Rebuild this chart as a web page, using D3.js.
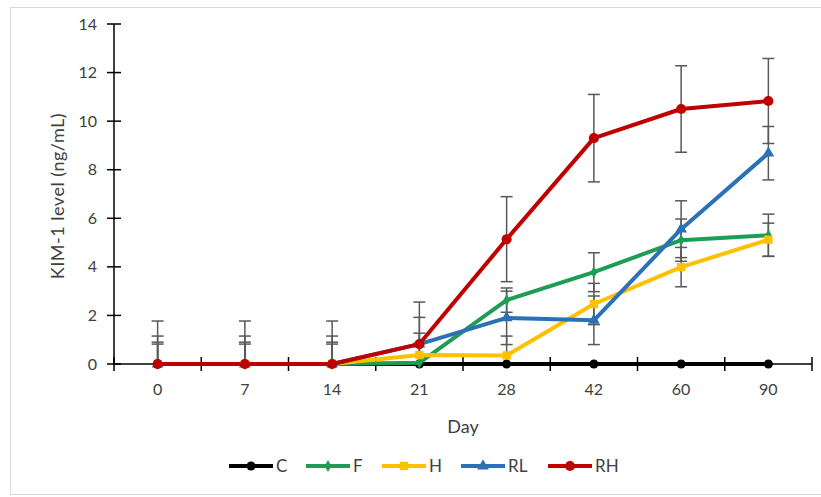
<!DOCTYPE html>
<html>
<head>
<meta charset="utf-8">
<script src="https://cdn.jsdelivr.net/npm/d3@7"></script>
<style>
  body { margin: 0; background: #fff; }
  text { font-family: Lato, "Open Sans", sans-serif; fill: #404040; }
</style>
</head>
<body>
<div id="chart"></div>
<script>
// days on x axis (categorical)
const days = ["0", "7", "14", "21", "28", "42", "60", "90"];
const yTicks = [0, 2, 4, 6, 8, 10, 12, 14];

// mean KIM-1 level per group
const valC  = [0, 0, 0, 0, 0, 0, 0, 0];
const valF  = [0, 0, 0, 0.05, 2.63, 3.78, 5.1, 5.3];
const valH  = [0, 0, 0, 0.37, 0.35, 2.47, 3.99, 5.12];
const valRL = [0, 0, 0, 0.82, 1.9, 1.8, 5.55, 8.68];
const valRH = [0, 0, 0, 0.82, 5.14, 9.3, 10.5, 10.83];

// error (+/-) per group
const errC  = [0, 0, 0, 0, 0, 0, 0, 0];
const errF  = [0.82, 0.82, 0.82, 0.8, 0.5, 0.8, 0.87, 0.87];
const errH  = [0.9, 0.9, 0.9, 0.9, 0.8, 0.85, 0.81, 0.68];
const errRL = [1.15, 1.15, 1.15, 1.1, 1.1, 1.0, 1.17, 1.1];
const errRH = [1.77, 1.77, 1.77, 1.73, 1.75, 1.8, 1.78, 1.75];

const series = [
  {name: "C",  vals: valC,  errs: errC,  color: "#000000", marker: d3.symbolCircle,   size: 64},
  {name: "F",  vals: valF,  errs: errF,  color: "#1e9e55", marker: d3.symbolDiamond,  size: 40},
  {name: "H",  vals: valH,  errs: errH,  color: "#ffc000", marker: d3.symbolSquare,   size: 70},
  {name: "RL", vals: valRL, errs: errRL, color: "#2a72b5", marker: d3.symbolTriangle, size: 60},
  {name: "RH", vals: valRH, errs: errRH, color: "#c00000", marker: d3.symbolCircle,   size: 80}
];

const W = 821, H = 497;
const margin = {left: 114, right: 9, top: 24, bottom: 133};
const pw = W - margin.left - margin.right;
const ph = H - margin.top - margin.bottom;

const svg = d3.select("#chart").append("svg")
    .attr("width", W)
    .attr("height", H);

// outer chart frame
svg.append("rect")
    .attr("x", 10.5).attr("y", 7.5)
    .attr("width", 830).attr("height", 487)
    .attr("fill", "none")
    .attr("stroke", "#d9d9d9");

const g = svg.append("g")
    .attr("transform", "translate(" + margin.left + "," + margin.top + ")");

const x = d3.scaleBand().domain(days).range([0, pw]);
const y = d3.scaleLinear().domain([0, 14]).range([ph, 0]);
const cx = d => x(d) + x.bandwidth() / 2;

// y axis
g.append("line")
    .attr("x1", 0).attr("x2", 0)
    .attr("y1", 0).attr("y2", ph)
    .attr("stroke", "#000").attr("stroke-width", 1.5);
g.selectAll(".ytick")
  .data(yTicks)
  .join("line")
    .attr("x1", -7).attr("x2", 7)
    .attr("y1", d => y(d)).attr("y2", d => y(d))
    .attr("stroke", "#000").attr("stroke-width", 1.5);
g.selectAll(".ylab")
  .data(yTicks)
  .join("text")
    .attr("x", -17)
    .attr("y", d => y(d))
    .attr("dy", "0.35em")
    .attr("text-anchor", "end")
    .style("font-size", "16px")
    .text(d => d);

// x axis
g.append("line")
    .attr("x1", 0).attr("x2", pw)
    .attr("y1", ph).attr("y2", ph)
    .attr("stroke", "#000").attr("stroke-width", 1.5);
g.selectAll(".xtick")
  .data(d3.range(days.length + 1))
  .join("line")
    .attr("x1", i => i * x.step()).attr("x2", i => i * x.step())
    .attr("y1", ph - 7).attr("y2", ph + 7)
    .attr("stroke", "#000").attr("stroke-width", 1.5);
g.selectAll(".xlab")
  .data(days)
  .join("text")
    .attr("x", d => cx(d))
    .attr("y", ph + 31)
    .attr("text-anchor", "middle")
    .style("font-size", "16px")
    .text(d => d);

// axis titles
g.append("text")
    .attr("x", pw / 2)
    .attr("y", ph + 69)
    .attr("text-anchor", "middle")
    .style("font-size", "18px")
    .text("Day");
g.append("text")
    .attr("transform", "translate(" + (-50) + "," + (ph / 2 + 2) + ") rotate(-90)")
    .attr("text-anchor", "middle")
    .style("font-size", "18px")
    .style("letter-spacing", "0.5px")
    .text("KIM-1 level (ng/mL)");

// error bars (clipped at axis minimum)
const errG = g.append("g");
series.forEach(s => {
  s.vals.forEach((v, i) => {
    if (!s.errs[i]) return;
    const xc = cx(days[i]);
    const hi = y(v + s.errs[i]);
    const lo = y(Math.max(0, v - s.errs[i]));
    errG.append("line")
        .attr("x1", xc).attr("x2", xc).attr("y1", hi).attr("y2", lo)
        .attr("stroke", "#595959").attr("stroke-width", 1.5);
    errG.append("line")
        .attr("x1", xc - 6).attr("x2", xc + 6).attr("y1", hi).attr("y2", hi)
        .attr("stroke", "#595959").attr("stroke-width", 1.5);
    if (v - s.errs[i] > 0) {
      errG.append("line")
          .attr("x1", xc - 6).attr("x2", xc + 6).attr("y1", lo).attr("y2", lo)
          .attr("stroke", "#595959").attr("stroke-width", 1.5);
    }
  });
});

// lines + markers
const line = d3.line()
    .x((d, i) => cx(days[i]))
    .y(d => y(d));

series.forEach(s => {
  g.append("path")
      .datum(s.vals)
      .attr("d", line)
      .attr("fill", "none")
      .attr("stroke", s.color)
      .attr("stroke-width", 4)
      .attr("stroke-linejoin", "round");
  g.selectAll(".m-" + s.name)
    .data(s.vals)
    .join("path")
      .attr("transform", (d, i) => "translate(" + cx(days[i]) + "," + y(d) + ")")
      .attr("d", d3.symbol().type(s.marker).size(s.size))
      .attr("fill", s.color);
});

// legend
const legX = [229, 306, 382, 461, 548];
const leg = svg.append("g").attr("transform", "translate(0,466)");
series.forEach((s, i) => {
  const lx = legX[i];
  leg.append("line")
      .attr("x1", lx).attr("x2", lx + 44)
      .attr("y1", 0).attr("y2", 0)
      .attr("stroke", s.color).attr("stroke-width", 4);
  leg.append("path")
      .attr("transform", "translate(" + (lx + 22) + ",0)")
      .attr("d", d3.symbol().type(s.marker).size(s.size))
      .attr("fill", s.color);
  leg.append("text")
      .attr("x", lx + 47)
      .attr("y", 0)
      .attr("dy", "0.35em")
      .style("font-size", "17px")
      .text(s.name);
});
</script>
</body>
</html>
